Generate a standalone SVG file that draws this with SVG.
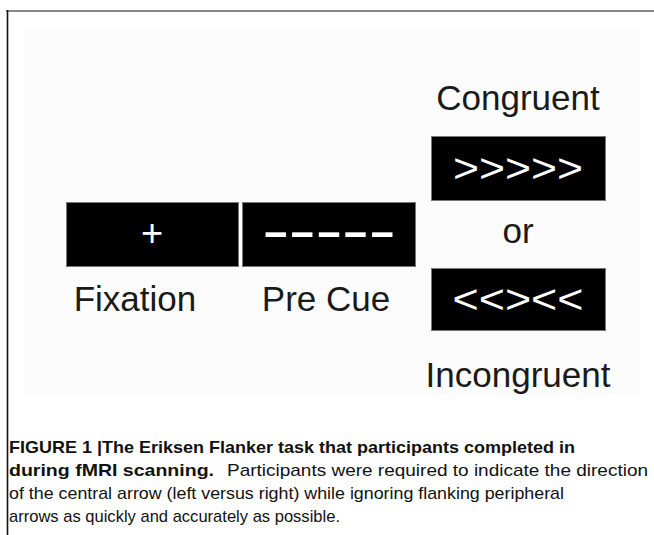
<svg xmlns="http://www.w3.org/2000/svg" width="654" height="535" viewBox="0 0 654 535">
<style>
.lbl{font-family:"Liberation Sans",Arial,sans-serif;font-size:35px;fill:#1a1a1a;text-anchor:middle}
.sym{font-family:"Liberation Sans",Arial,sans-serif;fill:#fff;text-anchor:middle}
.box{fill:#000;stroke:#777;stroke-width:1}
.cap{font-family:"Liberation Sans Narrow","Liberation Sans",Arial,sans-serif;font-size:17px;fill:#111}
.b{font-weight:bold}
</style>
<rect width="654" height="535" fill="#fff"/>
<rect x="24" y="28" width="616" height="367" fill="#fcfcfc"/>
<line x1="6" y1="11" x2="654" y2="11" stroke="#888" stroke-width="2"/>
<line x1="7.5" y1="10" x2="7.5" y2="535" stroke="#111" stroke-width="1.6"/>
<g id="fixation">
<rect class="box" x="66.5" y="202.5" width="172" height="64"/>
<text class="sym" x="152" y="246" font-size="38">+</text>
<text class="lbl" x="135" y="311">Fixation</text>
</g>
<g id="precue">
<rect class="box" x="242.5" y="202.5" width="173" height="64"/>
<text class="sym" x="329" y="245" font-size="38" font-weight="bold" textLength="133" lengthAdjust="spacingAndGlyphs">-----</text>
<text class="lbl" x="326" y="311">Pre Cue</text>
</g>
<g id="congruent">
<text class="lbl" x="518" y="110">Congruent</text>
<rect class="box" x="431.5" y="136.5" width="174" height="64"/>
<text class="sym" x="518" y="182" font-size="40" textLength="130" lengthAdjust="spacingAndGlyphs">&gt;&gt;&gt;&gt;&gt;</text>
</g>
<g id="or">
<text class="lbl" x="518" y="243">or</text>
</g>
<g id="incongruent">
<rect class="box" x="431.5" y="268.5" width="174" height="62"/>
<text class="sym" x="518" y="313" font-size="40" textLength="131" lengthAdjust="spacingAndGlyphs">&lt;&lt;&gt;&lt;&lt;</text>
<text class="lbl" x="518" y="387">Incongruent</text>
</g>
<g id="connectors"></g>
<g id="caption">
<text class="cap b" x="9" y="453" textLength="566" lengthAdjust="spacingAndGlyphs">FIGURE 1 |The Eriksen Flanker task that participants completed in</text>
<text class="cap b" x="9" y="476" textLength="205" lengthAdjust="spacingAndGlyphs">during fMRI scanning.</text>
<text class="cap" x="227" y="476" textLength="421" lengthAdjust="spacingAndGlyphs">Participants were required to indicate the direction</text>
<text class="cap" x="9" y="499" textLength="555" lengthAdjust="spacingAndGlyphs">of the central arrow (left versus right) while ignoring flanking peripheral</text>
<text class="cap" x="9" y="522" textLength="331" lengthAdjust="spacingAndGlyphs">arrows as quickly and accurately as possible.</text>
</g>
</svg>
